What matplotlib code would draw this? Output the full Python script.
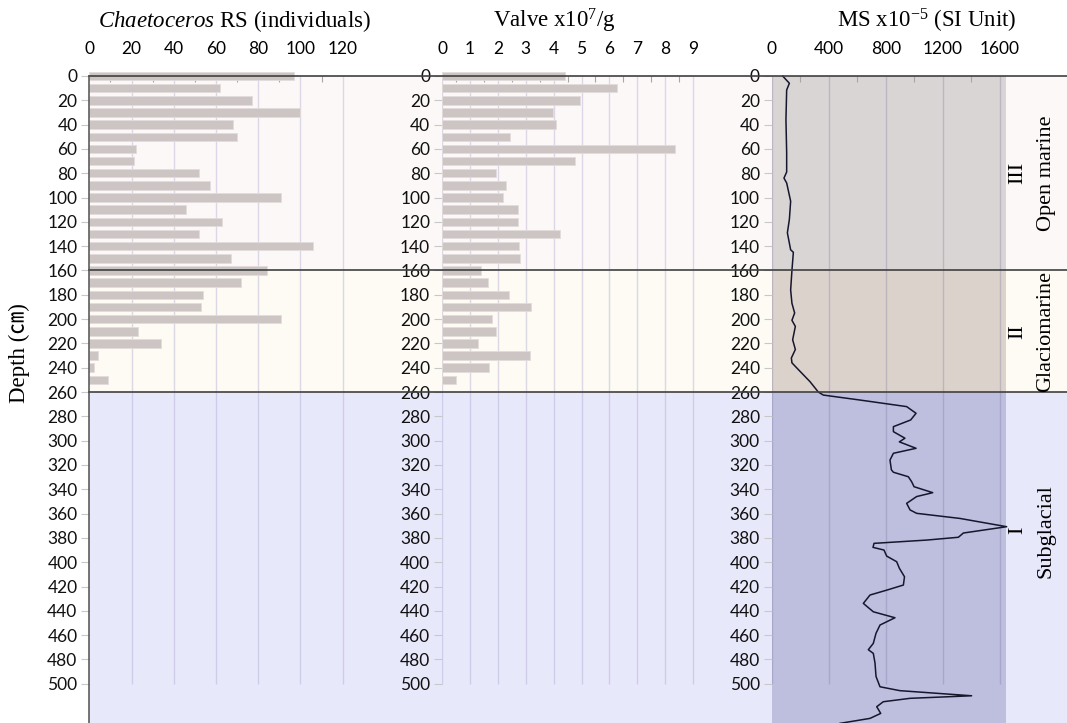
import numpy as np
import matplotlib
matplotlib.use('Agg')
import matplotlib.pyplot as plt
from matplotlib.transforms import blended_transform_factory

plt.rcParams['font.family'] = ['Lato', 'DejaVu Sans']
plt.rcParams['mathtext.fontset'] = 'custom'
plt.rcParams['mathtext.rm'] = 'Liberation Serif'
plt.rcParams['mathtext.it'] = 'Liberation Serif:italic'

# sample depths (cm) for the bar records
sample_depth = [0, 10, 20, 30, 40, 50, 60, 70, 80, 90, 100, 110, 120,
                130, 140, 150, 160, 170, 180, 190, 200, 210, 220, 230, 240, 250]
chaetoceros = [97, 62, 77, 100, 68, 70, 22, 21, 52, 57, 91, 46, 63,
               52, 106, 67, 84, 72, 54, 53, 91, 23, 34, 4, 2, 9]
valve = [4.42, 6.28, 4.93, 3.99, 4.10, 2.44, 8.35, 4.76, 1.92, 2.29, 2.20, 2.71, 2.71,
         4.23, 2.75, 2.78, 1.41, 1.65, 2.40, 3.20, 1.79, 1.94, 1.30, 3.15, 1.68, 0.49]

# magnetic susceptibility log
ms_depth = [0, 6, 11.5, 36, 63, 79, 84, 88, 103, 118, 129, 143, 145, 160, 176, 187,
            195, 201, 206, 217, 225, 232, 236, 243, 251.5, 260, 262.5, 266.6, 272,
            277.5, 283, 288.5, 292.6, 298, 301, 306.3, 310.4, 316, 324, 326, 329.7,
            333.8, 337.9, 342.8, 346, 351.6, 357, 359.8, 364, 370.8, 376, 379.5,
            381.8, 384.5, 387.8, 390, 395, 399.6, 405, 412, 418.8, 423, 427, 433.9,
            440.8, 445.7, 451.7, 458.5, 466.8, 472, 475, 483, 494, 502.5, 505.7,
            509.9, 512, 514.8, 518.9, 524.4, 528.5, 532.6]
ms_value = [77, 124, 105, 100, 105, 105, 86, 105, 133, 124, 110, 133, 152, 142, 133, 142,
            161, 142, 166, 147, 166, 138, 142, 199, 269, 327, 362, 620, 947,
            1013, 975, 854, 854, 935, 896, 1013, 854, 830, 840, 854, 959,
            982, 999, 1130, 1017, 947, 971, 1017, 1321, 1649, 1345, 1310,
            1088, 718, 711, 788, 807, 877, 896, 932, 924, 807, 690, 643,
            713, 865, 760, 732, 713, 678, 713, 725, 732, 760, 900,
            1403, 971, 783, 737, 765, 690, 479]
ms_shade_max = 1645

# lithological units
zone_bounds = [0, 160, 260, 532.3]
zone_colors = ['#FCF8F8', '#FDFBF4', '#E8E8FB']
zone_ms_colors = ['#D9D5D5', '#DCD2CC', '#BEBEDE']
zone_numerals = ['III', 'II', 'I']
zone_names = ['Open marine', 'Glaciomarine', 'Subglacial']
zone_label_depth = [80, 210, 374]

W, H = 1067, 723
TOP = 76
DEPTH_MAX = zone_bounds[-1]
fig = plt.figure(figsize=(W / 100, H / 100), dpi=100)


def px_axes(left, right):
    return fig.add_axes([left / W, 0, (right - left) / W, (H - TOP) / H])


bg = px_axes(89.3, W)
bg.set_xlim(0, 1)
bg.set_ylim(DEPTH_MAX, 0)
bg.axis('off')
for i in range(3):
    bg.axhspan(zone_bounds[i], zone_bounds[i + 1], color=zone_colors[i], lw=0)


def style_panel(ax, xmax, major, minor, labels):
    ax.set_facecolor('none')
    ax.set_xlim(0, xmax)
    ax.set_ylim(DEPTH_MAX, 0)
    for s in ax.spines.values():
        s.set_visible(False)
    ax.xaxis.tick_top()
    ax.set_xticks(major, labels)
    ax.set_xticks(minor, minor=True)
    ax.tick_params(axis='x', which='major', length=0, pad=13.5, labelsize=12.5)
    ax.tick_params(axis='x', which='minor', direction='in', length=4,
                   width=0.8, color='#A6A6A6')
    ax.set_yticks(range(0, 501, 20))
    ax.tick_params(axis='y', length=6, width=0.8, color='#C8C8C8', pad=2.5,
                   labelsize=12.5, labelcolor='#111111')


bar_color = '#CDC4C4'
bar_edge = '#E2DCDC'
grid_color = (0.6, 0.57, 0.76, 0.32)

# Chaetoceros resting spores
ax1 = px_axes(89.3, 89.3 + 135 * 2.111)
style_panel(ax1, 135, [0, 20, 40, 60, 80, 100, 120], [10, 30, 50, 70, 90, 110],
            ['0', '20', '40', '60', '80', '100', '120'])
ax1.vlines([20, 40, 60, 80, 100, 120], 0, 500, color=grid_color, lw=1, zorder=0.5)
ax1.barh(sample_depth, chaetoceros, height=7, color=bar_color, edgecolor=bar_edge,
         lw=0.6, clip_on=False, zorder=2)

# valve concentration
ax2 = px_axes(442, 442 + 9.6 * 27.9)
style_panel(ax2, 9.6, list(range(10)), [0.5 + k for k in range(9)],
            [str(k) for k in range(10)])
ax2.vlines(range(10), 0, 500, color=grid_color, lw=1, zorder=0.5)
ax2.barh(sample_depth, valve, height=7, color=bar_color, edgecolor=bar_edge,
         lw=0.6, clip_on=False, zorder=2)

# magnetic susceptibility
ax3 = px_axes(771.7, 771.7 + 1700 * 0.1425)
style_panel(ax3, 1700, [0, 400, 800, 1200, 1600], [200, 600, 1000, 1400],
            ['0', '400', '800', '1200', '1600'])
for i in range(3):
    ax3.fill_betweenx([zone_bounds[i], zone_bounds[i + 1]], 0, ms_shade_max,
                      color=zone_ms_colors[i], lw=0, zorder=0.2)
ax3.vlines([0, 400, 800, 1200, 1600], 0, 500, color=(0.45, 0.45, 0.6, 0.3),
           lw=1, zorder=0.5)
ax3.plot(ms_value, ms_depth, color='#16162C', lw=1.1, clip_on=False, zorder=3)

# unit boundaries on top of everything
top = px_axes(89.3, W)
top.set_xlim(0, 1)
top.set_ylim(DEPTH_MAX, 0)
top.axis('off')
for b in zone_bounds[:3]:
    top.axhline(b, color='#404040', lw=1.2, clip_on=False)
top.axvline(0, color='#505050', lw=1.1, clip_on=False)

trans = blended_transform_factory(fig.transFigure, top.transData)
for num, name, d in zip(zone_numerals, zone_names, zone_label_depth):
    top.text(1017.5 / W, d, num, transform=trans, rotation=90, ha='center',
             va='center', family='Liberation Serif', fontsize=16)
    top.text(1046 / W, d, name, transform=trans, rotation=90, ha='center',
             va='center', family='Liberation Serif', fontsize=16)

title_kw = dict(ha='center', va='center', family='Liberation Serif', fontsize=16.5)
fig.text(234 / W, 1 - 21 / H, r'$\mathit{Chaetoceros}$ RS (individuals)', **title_kw)
fig.text(554 / W, 1 - 21 / H, r'Valve x10$^{\mathrm{7}}$/g', **title_kw)
fig.text(927 / W, 1 - 21 / H, r'MS x10$^{\mathrm{-5}}$ (SI Unit)', **title_kw)
fig.text(19 / W, 1 - 353 / H, 'Depth (㎝)', rotation=90, ha='center', va='center',
         family=['Liberation Serif', 'Noto Sans CJK KR'], fontsize=16.5)

fig.savefig('out.png', dpi=100)
